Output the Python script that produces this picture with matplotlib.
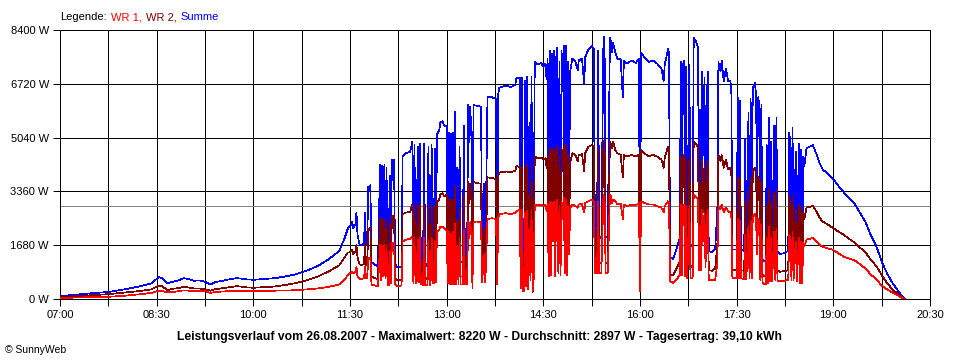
import matplotlib
matplotlib.use("Agg")
import matplotlib.pyplot as plt
from matplotlib.offsetbox import TextArea, HPacker, AnchoredOffsetbox
import pandas as pd

plt.rcParams['font.family'] = ['Liberation Sans', 'DejaVu Sans']

# Messzeitpunkte (HH:MM) und Leistung der beiden Wechselrichter in W
times = [
    # morgens
    "07:00", "07:10", "07:20", "07:30", "07:45", "08:00", "08:15", "08:25", "08:32", "08:35",
    "08:40", "08:45", "08:50", "08:55", "09:00", "09:05", "09:10", "09:15", "09:20", "09:25",
    "09:30", "09:40", "09:45", "09:55", "10:00", "10:10", "10:20", "10:30", "10:40", "10:50",
    "11:00", "11:10", "11:20", "11:25", "11:28",
    # 11:30
    "11:30", "11:31", "11:32", "11:33", "11:34", "11:35", "11:36", "11:37", "11:39", "11:41",
    "11:43", "11:44", "11:45", "11:46", "11:47", "11:48", "11:49", "11:50", "11:53", "11:56",
    "11:58", "11:59",
    # 12:00
    "12:00", "12:01", "12:02", "12:03", "12:04", "12:05", "12:06", "12:07", "12:08", "12:09",
    "12:10", "12:11", "12:12", "12:14", "12:18", "12:19", "12:22", "12:26", "12:28", "12:29",
    "12:30", "12:31", "12:32", "12:33", "12:34", "12:35", "12:36", "12:37", "12:38", "12:39",
    "12:40", "12:41", "12:42", "12:43", "12:44", "12:45", "12:46", "12:47", "12:48", "12:49",
    "12:50", "12:51", "12:53", "12:54", "12:56", "12:58",
    # 13:00
    "13:00", "13:01", "13:02", "13:03", "13:04", "13:05", "13:06", "13:07", "13:08", "13:09",
    "13:10", "13:11", "13:12", "13:13", "13:15", "13:16", "13:17", "13:19", "13:20", "13:21",
    "13:22", "13:23", "13:24", "13:25", "13:28", "13:32", "13:33", "13:35", "13:36", "13:38",
    "13:42", "13:46", "13:47", "13:48", "13:49", "13:55",
    # 14:00
    "14:00", "14:04", "14:05", "14:08", "14:09", "14:10", "14:11", "14:12", "14:13", "14:14",
    "14:15", "14:16", "14:17", "14:18", "14:19", "14:20", "14:21", "14:22", "14:25", "14:28",
    "14:30", "14:32", "14:33", "14:34", "14:35", "14:36", "14:37", "14:38", "14:39", "14:40",
    "14:41", "14:42", "14:43", "14:44", "14:45", "14:46", "14:47", "14:48", "14:49", "14:50",
    "14:51", "14:52", "14:53", "14:54", "14:55", "14:57",
    # 15:00
    "15:00", "15:02", "15:03", "15:06", "15:08", "15:09", "15:12", "15:15", "15:17", "15:18",
    "15:20", "15:21", "15:22", "15:24", "15:26", "15:27", "15:28", "15:30", "15:32", "15:33",
    "15:34", "15:35", "15:37", "15:39", "15:42", "15:44", "15:45", "15:48", "15:52", "15:56",
    "15:59",
    # 16:00
    "16:00", "16:01", "16:04", "16:08", "16:12", "16:16", "16:20", "16:22", "16:23", "16:26",
    "16:27", "16:28", "16:31", "16:34", "16:37", "16:38", "16:39", "16:40", "16:41", "16:42",
    "16:43", "16:44", "16:46", "16:47", "16:49", "16:50", "16:52", "16:54", "16:55", "16:56",
    "16:57", "16:58", "16:59",
    # 17:00
    "17:00", "17:01", "17:02", "17:03", "17:04", "17:07", "17:10", "17:12", "17:13", "17:15",
    "17:16", "17:18", "17:20", "17:22", "17:24", "17:25", "17:26", "17:30", "17:31", "17:32",
    "17:33", "17:34", "17:37", "17:38", "17:39", "17:41", "17:42", "17:43", "17:44", "17:45",
    "17:47", "17:48", "17:49", "17:50", "17:51", "17:52", "17:53", "17:54", "17:57", "17:58",
    "17:59",
    # 18:00 bis Sonnenuntergang
    "18:00", "18:01", "18:02", "18:03", "18:05", "18:06", "18:07", "18:08", "18:10", "18:14",
    "18:18", "18:19", "18:20", "18:21", "18:22", "18:23", "18:25", "18:26", "18:28", "18:29",
    "18:30", "18:31", "18:32", "18:33", "18:35", "18:38", "18:41", "18:44", "18:47", "18:50",
    "18:55", "19:00", "19:05", "19:10", "19:15", "19:20", "19:25", "19:30", "19:35", "19:40",
    "19:45", "19:50", "19:55", "20:00", "20:05", "20:07",
]

wr1 = [
    30, 40, 50, 60, 70, 100, 150, 190, 260, 250,
    210, 220, 240, 270, 260, 240, 250, 240, 190, 220,
    230, 250, 250, 250, 250, 255, 260, 265, 275, 300,
    330, 380, 450, 600, 750,
    820, 800, 850, 800, 830, 850, 1000, 700, 620, 620,
    650, 1000, 650, 650, 1300, 1250, 1300, 450, 420, 400,
    1700, 600,
    1650, 700, 1700, 650, 1650, 420, 420, 1500, 500, 1750,
    1700, 1750, 450, 400, 420, 1800, 1850, 1880, 1950, 500,
    1900, 500, 480, 1850, 520, 1900, 450, 460, 440, 1900,
    440, 450, 430, 1850, 440, 450, 1900, 480, 500, 1800,
    520, 2100, 2150, 2250, 2250, 2200,
    2150, 500, 2100, 450, 2050, 450, 2100, 450, 2350, 450,
    1650, 460, 1900, 450, 450, 2150, 450, 450, 2400, 1900,
    2400, 2000, 350, 2400, 2420, 2400, 530, 1400, 530, 2500,
    2520, 2500, 450, 2550, 2650, 2680,
    2650, 2700, 2750, 2780, 350, 2800, 250, 230, 2700, 400,
    2750, 300, 2200, 600, 2800, 250, 600, 2950, 2930, 2950,
    2900, 2950, 2750, 3000, 700, 3050, 750, 3000, 1800, 3050,
    700, 3000, 3100, 800, 2900, 750, 3050, 2500, 3150, 800,
    3100, 750, 2900, 1400, 2850, 2950,
    2900, 2850, 2950, 2980, 2700, 3000, 3050, 3100, 3050, 800,
    820, 3050, 800, 800, 3250, 3200, 800, 820, 3250, 3200,
    3000, 3100, 3050, 2950, 2980, 2500, 2950, 2900, 2950, 2920,
    3000,
    250, 3050, 3000, 2950, 2950, 2900, 2850, 2700, 2900, 3050,
    3000, 550, 500, 600, 750, 2950, 750, 2900, 2950, 700,
    2900, 650, 2900, 650, 650, 3250, 3200, 3100, 900, 2300,
    900, 2800, 1800,
    2700, 1000, 2300, 2800, 600, 580, 600, 1100, 2900, 2800,
    2950, 2700, 2850, 2750, 2700, 2650, 650, 650, 2500, 650,
    2450, 650, 620, 2000, 620, 2300, 650, 2450, 650, 2600,
    2650, 2500, 1400, 2500, 2400, 600, 2350, 500, 450, 1900,
    500,
    2250, 550, 1900, 550, 2100, 600, 2200, 580, 550, 560,
    600, 2000, 1850, 600, 2100, 600, 1800, 550, 1900, 500,
    1800, 500, 1750, 1650, 1850, 1880, 1900, 1800, 1700, 1630,
    1580, 1530, 1420, 1320, 1260, 1200, 1080, 950, 760, 620,
    420, 300, 200, 110, 20, 0,
]

wr2 = [
    60, 80, 100, 120, 150, 200, 250, 300, 420, 400,
    280, 320, 340, 380, 360, 330, 330, 300, 260, 310,
    330, 380, 400, 360, 350, 370, 390, 440, 500, 590,
    700, 860, 1050, 1300, 1450,
    1450, 1500, 1550, 1400, 1480, 1450, 1700, 1300, 1080, 1050,
    1100, 1700, 1050, 1050, 2200, 2150, 2250, 700, 650, 620,
    2500, 900,
    2500, 1000, 2480, 950, 2450, 650, 640, 2350, 800, 2600,
    2600, 2600, 650, 580, 600, 2650, 2700, 2720, 2950, 850,
    2900, 800, 800, 2900, 850, 2950, 650, 650, 600, 2950,
    650, 650, 600, 2900, 620, 700, 2900, 750, 850, 2900,
    850, 3050, 3100, 3250, 3300, 3200,
    3250, 800, 3100, 700, 3100, 700, 3100, 700, 3500, 700,
    2450, 700, 2850, 700, 700, 3250, 700, 700, 3650, 3000,
    3600, 3100, 500, 3650, 3620, 3600, 800, 2200, 800, 3800,
    3780, 3750, 650, 3850, 3950, 3980,
    3970, 4000, 4150, 4120, 500, 4100, 300, 250, 4100, 600,
    4200, 400, 3300, 900, 4150, 200, 800, 4450, 4400, 4420,
    4350, 4400, 4100, 4500, 1000, 4700, 1050, 4650, 2700, 4700,
    1100, 4550, 4750, 1000, 4500, 1100, 4700, 4000, 4750, 1000,
    4800, 1050, 4500, 2000, 4250, 4550,
    4500, 4300, 4500, 4520, 4000, 4550, 4750, 4800, 4750, 1200,
    1150, 4700, 1150, 1100, 4950, 4900, 1150, 1100, 4900, 4850,
    4700, 4900, 4650, 4550, 4500, 3800, 4500, 4450, 4500, 4450,
    4500,
    300, 4650, 4550, 4450, 4500, 4450, 4350, 4100, 4400, 4750,
    4700, 750, 750, 950, 1150, 4450, 1150, 4400, 4500, 1100,
    4350, 1000, 4400, 1000, 1050, 4900, 4850, 4750, 1400, 3600,
    1300, 4300, 2700,
    4200, 1500, 3500, 4300, 900, 880, 950, 1700, 4500, 4300,
    4500, 4100, 4350, 4050, 4100, 4000, 900, 900, 3800, 900,
    3750, 900, 880, 3000, 880, 3500, 900, 3800, 900, 4000,
    4100, 3900, 2200, 3800, 3700, 880, 3700, 750, 700, 2900,
    800,
    3400, 850, 3000, 850, 3300, 900, 3450, 900, 850, 870,
    900, 3200, 2950, 900, 3250, 900, 2800, 850, 2950, 800,
    2850, 800, 2700, 2500, 2850, 2880, 2900, 2750, 2550, 2420,
    2320, 2210, 2100, 2000, 1870, 1760, 1600, 1450, 1220, 1030,
    750, 500, 300, 160, 30, 0,
]

average = 2897
y_ticks = [0, 1680, 3360, 5040, 6720, 8400]
title = ("Leistungsverlauf vom 26.08.2007 - Maximalwert: 8220 W - "
         "Durchschnitt: 2897 W - Tagesertrag: 39,10 kWh")

df = pd.DataFrame({'time': pd.to_datetime('2007-08-26 ' + pd.Series(times)),
                   'wr1': wr1, 'wr2': wr2})
df['summe'] = df['wr1'] + df['wr2']

px = 0.72  # eine Pixelbreite in Punkt
lw_data = 0.5

fig = plt.figure(figsize=(9.6, 3.6), dpi=100)
ax = fig.add_axes([60 / 960, 1 - 299 / 360, 870 / 960, 269 / 360])

ax.plot(df['time'], df['summe'], color='#0000ff', lw=lw_data, antialiased=False, zorder=3)
ax.plot(df['time'], df['wr2'], color='#800000', lw=lw_data, antialiased=False, zorder=4)
ax.plot(df['time'], df['wr1'], color='#ff0000', lw=lw_data, antialiased=False, zorder=5)
ax.axhline(average, color='#808080', lw=px, antialiased=False, zorder=2)

start = pd.Timestamp('2007-08-26 07:00')
end = pd.Timestamp('2007-08-26 20:30')
ax.set_xlim(start, end)
ax.set_ylim(0, 8400)

ticks = pd.date_range(start, end, freq='45min')
ax.set_xticks(ticks)
ax.set_xticklabels([t.strftime('%H:%M') if i % 2 == 0 else '' for i, t in enumerate(ticks)])
ax.set_yticks(y_ticks)
ax.set_yticklabels([f'{v} W' for v in y_ticks])

ax.set_axisbelow(True)
ax.grid(True, color='black', lw=px, antialiased=False)
ax.tick_params(length=5, width=px, labelsize=8, color='black', pad=3)
for s in ax.spines.values():
    s.set_linewidth(px)
    s.set_antialiased(False)

fig.text(479 / 960, 1 - 337 / 360, title, ha='center', va='center',
         fontsize=8.7, fontweight='bold')
fig.text(5 / 960, 1 - 350 / 360, '\u00a9 SunnyWeb', ha='left', va='center', fontsize=7.5)

# Legende oben links, mehrfarbig
parts = [('Legende:', 'black'), ('WR 1,', '#ff0000'), ('WR 2,', '#800000'), ('Summe', '#0000ff')]
pack = HPacker(children=[TextArea(s, textprops=dict(color=c, fontsize=8)) for s, c in parts],
               sep=3, pad=0, align='center')
box = AnchoredOffsetbox(loc='center left', child=pack, pad=0, borderpad=0, frameon=False,
                        bbox_to_anchor=(60 / 960, 1 - 17 / 360), bbox_transform=fig.transFigure)
fig.add_artist(box)

fig.savefig('out.png', dpi=100)
